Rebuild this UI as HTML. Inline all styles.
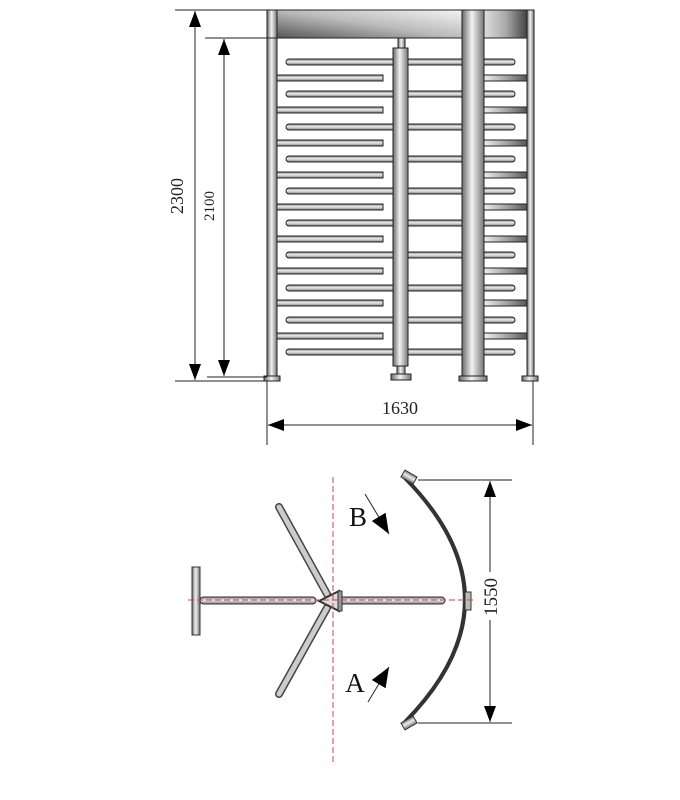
<!DOCTYPE html>
<html><head><meta charset="utf-8"><style>html,body{margin:0;padding:0;background:#fff}svg{display:block}</style></head><body>
<svg width="680" height="800" viewBox="0 0 680 800" xmlns="http://www.w3.org/2000/svg" font-family="Liberation Serif, serif">
<defs>
<linearGradient id="pv" x1="0" x2="1" y1="0" y2="0"><stop offset="0" stop-color="#6a6a6a"/><stop offset="0.45" stop-color="#f2f2f2"/><stop offset="1" stop-color="#777"/></linearGradient>
<linearGradient id="ph" x1="0" x2="0" y1="0" y2="1"><stop offset="0" stop-color="#777"/><stop offset="0.45" stop-color="#eee"/><stop offset="1" stop-color="#777"/></linearGradient>
<linearGradient id="top" x1="0" x2="1" y1="1" y2="0"><stop offset="0" stop-color="#555"/><stop offset="0.5" stop-color="#bbb"/><stop offset="1" stop-color="#f4f4f4"/></linearGradient>
<linearGradient id="top2" x1="0" x2="1"><stop offset="0" stop-color="#ddd"/><stop offset="0.5" stop-color="#aaa"/><stop offset="1" stop-color="#444"/></linearGradient>
<linearGradient id="rs" x1="0" x2="1"><stop offset="0" stop-color="#eee"/><stop offset="0.6" stop-color="#999"/><stop offset="1" stop-color="#555"/></linearGradient>
<marker id="ab" viewBox="0 0 10 10" refX="10" refY="5" markerWidth="16" markerHeight="12" markerUnits="userSpaceOnUse" orient="auto-start-reverse" preserveAspectRatio="none"><path d="M0,0 L10,5 L0,10 z" fill="#000"/></marker>
<marker id="ad" viewBox="0 0 10 10" refX="10" refY="5" markerWidth="20" markerHeight="16" markerUnits="userSpaceOnUse" orient="auto" preserveAspectRatio="none"><path d="M0,0 L10,5 L0,10 z" fill="#000"/></marker>
</defs>
<g stroke="#222" stroke-width="1">
<rect x="277" y="10" width="185" height="28" fill="url(#top)"/>
<rect x="484" y="10" width="43" height="28" fill="url(#top2)"/>
<g fill="url(#ph)">
<rect x="277" y="75" width="106" height="6"/><rect x="277" y="107" width="106" height="6"/><rect x="277" y="140" width="106" height="6"/><rect x="277" y="172" width="106" height="6"/><rect x="277" y="204" width="106" height="6"/><rect x="277" y="236" width="106" height="6"/><rect x="277" y="268" width="106" height="6"/><rect x="277" y="300" width="106" height="6"/><rect x="277" y="333" width="106" height="6"/>
</g>
<g fill="url(#rs)">
<rect x="484" y="75" width="43" height="6"/><rect x="484" y="107" width="43" height="6"/><rect x="484" y="140" width="43" height="6"/><rect x="484" y="172" width="43" height="6"/><rect x="484" y="204" width="43" height="6"/><rect x="484" y="236" width="43" height="6"/><rect x="484" y="268" width="43" height="6"/><rect x="484" y="300" width="43" height="6"/><rect x="484" y="333" width="43" height="6"/>
</g>
<g fill="url(#ph)">
<rect x="286" y="59" width="229" height="6" rx="3"/><rect x="286" y="91" width="229" height="6" rx="3"/><rect x="286" y="124" width="229" height="6" rx="3"/><rect x="286" y="156" width="229" height="6" rx="3"/><rect x="286" y="188" width="229" height="6" rx="3"/><rect x="286" y="220" width="229" height="6" rx="3"/><rect x="286" y="252" width="229" height="6" rx="3"/><rect x="286" y="285" width="229" height="6" rx="3"/><rect x="286" y="317" width="229" height="6" rx="3"/><rect x="286" y="349" width="229" height="6" rx="3"/>
</g>
<rect x="267" y="10" width="10" height="366" fill="url(#pv)"/>
<rect x="264" y="376" width="16" height="5" fill="url(#pv)"/>
<rect x="462" y="10" width="22" height="366" fill="url(#pv)"/>
<rect x="459" y="376" width="28" height="5" fill="url(#pv)"/>
<rect x="527" y="10" width="7" height="366" fill="url(#pv)"/>
<rect x="522" y="376" width="16" height="5" fill="url(#pv)"/>
<rect x="398" y="38" width="7" height="10" fill="url(#pv)"/>
<rect x="393" y="48" width="15" height="318" fill="url(#pv)"/>
<rect x="397" y="366" width="8" height="8" fill="url(#pv)"/>
<rect x="391" y="374" width="20" height="6" fill="url(#pv)"/>
</g>
<g stroke="#222" stroke-width="1" fill="none">
<line x1="175" y1="10" x2="267" y2="10"/><line x1="175" y1="381" x2="267" y2="381"/>
<line x1="195" y1="11" x2="195" y2="380" marker-start="url(#ab)" marker-end="url(#ab)"/>
<line x1="205" y1="38" x2="277" y2="38"/><line x1="207" y1="377" x2="267" y2="377"/>
<line x1="224" y1="39" x2="224" y2="376" marker-start="url(#ab)" marker-end="url(#ab)"/>
<line x1="267" y1="381" x2="267" y2="445"/><line x1="533" y1="381" x2="533" y2="445"/>
<line x1="268" y1="425" x2="532" y2="425" marker-start="url(#ab)" marker-end="url(#ab)"/>
</g>
<text x="0" y="0" font-size="18" fill="#222" text-anchor="middle" transform="translate(183,196) rotate(-90)">2300</text>
<text x="0" y="0" font-size="15" fill="#222" text-anchor="middle" transform="translate(214,206) rotate(-90)">2100</text>
<text x="400" y="414" font-size="18" fill="#222" text-anchor="middle">1630</text>
<g stroke="#333" stroke-width="1">
<rect x="192" y="567" width="8" height="68" fill="url(#pv)"/>
<rect x="200" y="597" width="116" height="7" rx="3.5" fill="url(#ph)"/>
<rect x="338" y="597" width="107" height="7" rx="3.5" fill="url(#ph)"/>
<line x1="327" y1="594" x2="279" y2="507" stroke="#444" stroke-width="8" stroke-linecap="round"/>
<line x1="327" y1="594" x2="279" y2="507" stroke="#ccc" stroke-width="5" stroke-linecap="round"/>
<line x1="327" y1="608" x2="279" y2="694" stroke="#444" stroke-width="8" stroke-linecap="round"/>
<line x1="327" y1="608" x2="279" y2="694" stroke="#ccc" stroke-width="5" stroke-linecap="round"/>
<path d="M339,591 L319,601 L339,611 Z" fill="#ddd" stroke-width="2"/>
<rect x="338" y="591" width="4" height="20" fill="#999"/>
</g>
<path d="M405,478 Q525,600 405,722" fill="none" stroke="#333" stroke-width="4"/>
<g stroke="#333" fill="url(#ph)">
<rect x="402" y="473" width="14" height="8" transform="rotate(30 409 477)"/>
<rect x="402" y="719" width="14" height="8" transform="rotate(-30 409 723)"/>
<rect x="465" y="592" width="6" height="18" fill="#bbb"/>
</g>
<g stroke="#d04050" stroke-width="1" stroke-dasharray="6,3" fill="none">
<line x1="333" y1="477" x2="333" y2="765"/>
<line x1="188" y1="600" x2="475" y2="600"/>
</g>
<g stroke="#222" stroke-width="1" fill="none">
<line x1="418" y1="480" x2="512" y2="480"/><line x1="418" y1="723" x2="512" y2="723"/>
<line x1="490" y1="481" x2="490" y2="722" marker-start="url(#ab)" marker-end="url(#ab)"/>
<line x1="365" y1="494" x2="389" y2="534" marker-end="url(#ad)"/>
<line x1="368" y1="702" x2="389" y2="667" marker-end="url(#ad)"/>
</g>
<rect x="484" y="572" width="14" height="48" fill="#fff"/>
<text x="0" y="0" font-size="19" fill="#222" text-anchor="middle" transform="translate(497,597) rotate(-90)">1550</text>
<text x="358" y="526" font-size="27" fill="#111" text-anchor="middle">B</text>
<text x="355" y="692" font-size="27" fill="#111" text-anchor="middle">A</text>
</svg>
</body></html>
